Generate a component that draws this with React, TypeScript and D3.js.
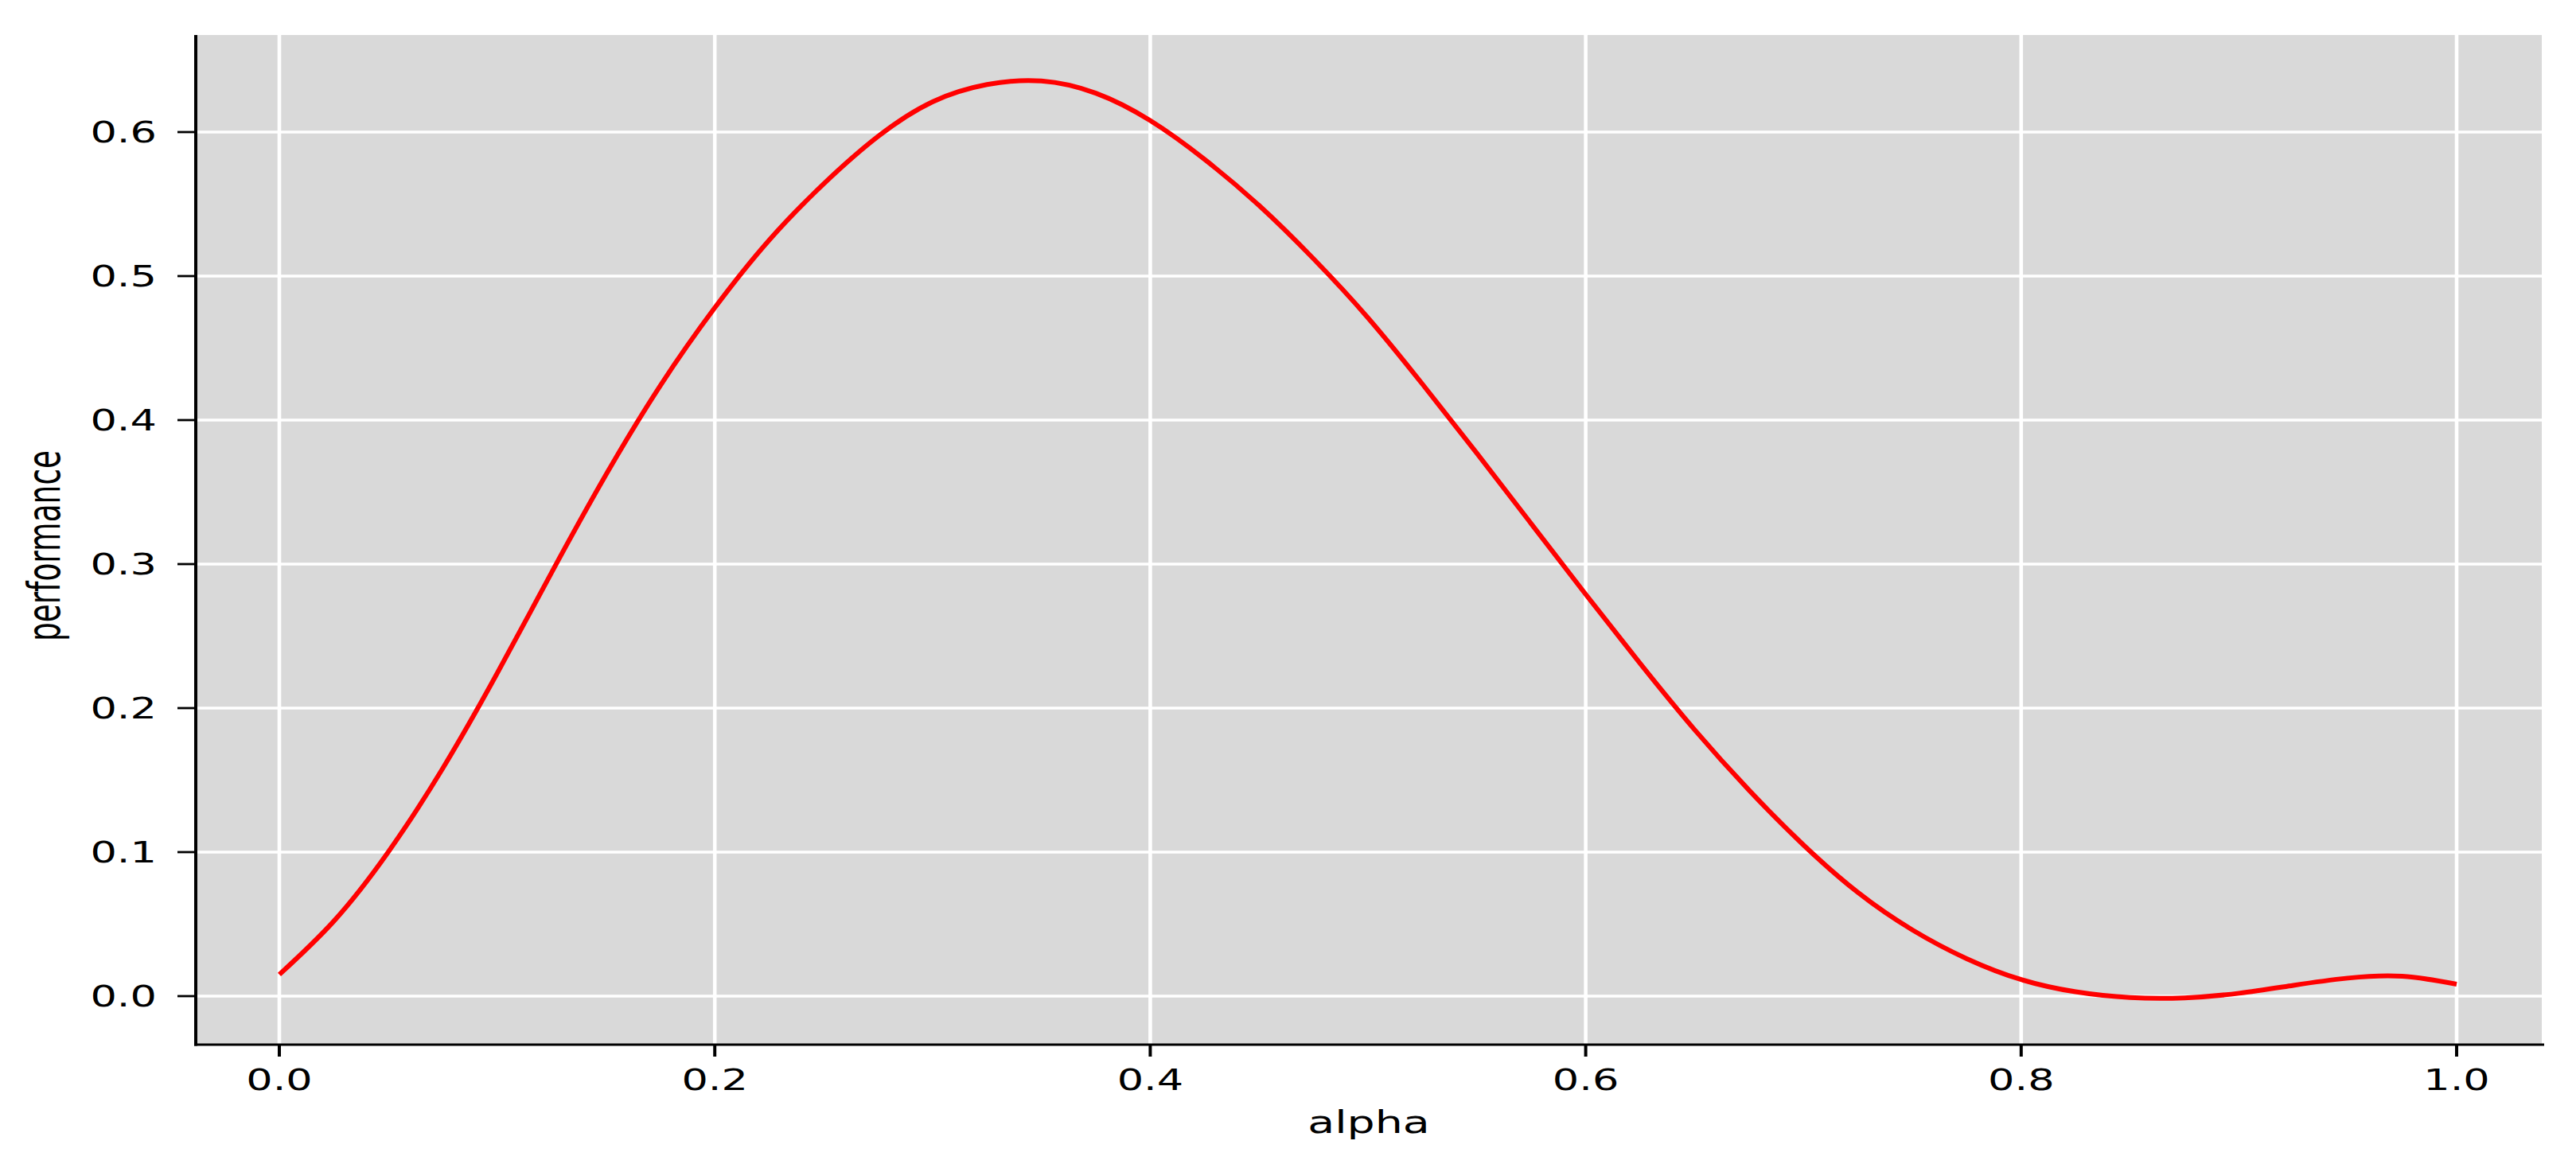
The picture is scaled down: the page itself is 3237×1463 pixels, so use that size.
import React from "react";
import * as d3 from "d3";

const alphaValues = [
  0.0, 0.025, 0.05, 0.075, 0.1, 0.125, 0.15, 0.175, 0.2, 0.225, 0.25, 0.275,
  0.3, 0.325, 0.35, 0.375, 0.4, 0.425, 0.45, 0.475, 0.5, 0.525, 0.55, 0.575,
  0.6, 0.625, 0.65, 0.675, 0.7, 0.725, 0.75, 0.775, 0.8, 0.825, 0.85, 0.875,
  0.9, 0.925, 0.95, 0.975, 1.0,
];
const performanceValues = [
  0.015, 0.052, 0.1, 0.158, 0.224, 0.294, 0.362, 0.424, 0.478, 0.525, 0.564,
  0.597, 0.621, 0.633, 0.6355, 0.627, 0.608, 0.581, 0.549, 0.512, 0.471, 0.425,
  0.377, 0.328, 0.279, 0.231, 0.185, 0.143, 0.105, 0.072, 0.046, 0.026, 0.0115,
  0.003, -0.001, -0.0012, 0.002, 0.0075, 0.0125, 0.0138, 0.0083,
];
const xTicks = [0.0, 0.2, 0.4, 0.6, 0.8, 1.0];
const yTicks = [0.0, 0.1, 0.2, 0.3, 0.4, 0.5, 0.6];
const xLabel = "alpha";
const yLabel = "performance";

const W = 3237;
const H = 1463;
const plotLeft = 246;
const plotRight = 3194;
const plotTop = 44;
const plotBottom = 1313;
const stretch = 1.42;
const font = "'DejaVu Sans', sans-serif";

export default function App() {
  const x = d3.scaleLinear().domain([0, 1]).range([351, 3087]);
  const y = d3.scaleLinear().domain([0, 0.6]).range([1252, 166]);
  const data = alphaValues.map((a, i) => [a, performanceValues[i]] as [number, number]);
  const line = d3
    .line<[number, number]>()
    .x((d) => x(d[0]))
    .y((d) => y(d[1]))
    .curve(d3.curveNatural);
  const fmt = d3.format(".1f");

  return (
    <svg
      width={W}
      height={H}
      style={{ position: "absolute", left: 0, top: 0, display: "block", background: "#fff" }}
    >
      <rect x={plotLeft} y={plotTop} width={plotRight - plotLeft} height={plotBottom - plotTop} fill="#d9d9d9" />
      {yTicks.map((t) => (
        <line key={"gy" + t} x1={plotLeft} x2={plotRight} y1={y(t)} y2={y(t)} stroke="#fff" strokeWidth={3.3} />
      ))}
      {xTicks.map((t) => (
        <line key={"gx" + t} x1={x(t)} x2={x(t)} y1={plotTop} y2={plotBottom} stroke="#fff" strokeWidth={4.6} />
      ))}
      <path d={line(data) || ""} fill="none" stroke="#ff0000" strokeWidth={6} strokeLinejoin="round" strokeLinecap="butt" />
      {/* spines */}
      <line x1={plotLeft} x2={plotLeft} y1={plotTop} y2={plotBottom + 1.5} stroke="#000" strokeWidth={4} />
      <line x1={plotLeft - 2} x2={plotRight + 3} y1={plotBottom} y2={plotBottom} stroke="#000" strokeWidth={3} />
      {/* y ticks */}
      {yTicks.map((t) => (
        <g key={"yt" + t}>
          <line x1={plotLeft - 23} x2={plotLeft} y1={y(t)} y2={y(t)} stroke="#000" strokeWidth={2.8} />
          <g transform={`translate(197, ${y(t)}) scale(${stretch},1)`}>
            <text x={0} y={0} dy="0.36em" textAnchor="end" fontFamily={font} fontSize={37} fill="#000">
              {fmt(t)}
            </text>
          </g>
        </g>
      ))}
      {/* x ticks */}
      {xTicks.map((t) => (
        <g key={"xt" + t}>
          <line x1={x(t)} x2={x(t)} y1={plotBottom} y2={plotBottom + 15} stroke="#000" strokeWidth={4} />
          <g transform={`translate(${x(t)}, 1370) scale(${stretch},1)`}>
            <text x={0} y={0} textAnchor="middle" fontFamily={font} fontSize={37} fill="#000">
              {fmt(t)}
            </text>
          </g>
        </g>
      ))}
      <g transform={`translate(${(plotLeft + plotRight) / 2}, 1424) scale(${stretch},1)`}>
        <text x={0} y={0} textAnchor="middle" fontFamily={font} fontSize={39} fill="#000">
          {xLabel}
        </text>
      </g>
      <g transform={`translate(75, 686) scale(1.5,1) rotate(-90)`}>
        <text x={0} y={0} textAnchor="middle" fontFamily={font} fontSize={37.5} fill="#000">
          {yLabel}
        </text>
      </g>
    </svg>
  );
}
